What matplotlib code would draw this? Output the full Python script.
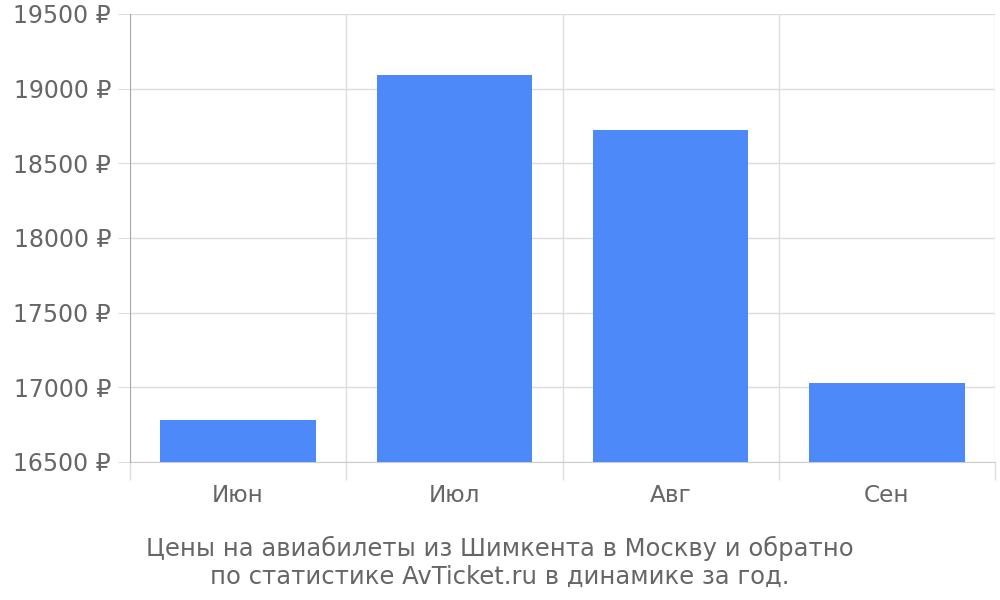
import matplotlib.pyplot as plt
import numpy as np

months = ['Июн', 'Июл', 'Авг', 'Сен']
prices = [16780, 19090, 18720, 17030]
yticks = [16500, 17000, 17500, 18000, 18500, 19000, 19500]
caption = 'Цены на авиабилеты из Шимкента в Москву и обратно\nпо статистике AvTicket.ru в динамике за год.'

fig = plt.figure(figsize=(10, 6), dpi=100)
ax = fig.add_axes([0.13, 0.23, 0.865, 0.7467])

x = np.arange(len(months))
ax.bar(x, [p - yticks[0] for p in prices], bottom=yticks[0], width=0.72,
       color='#4d89f9', zorder=3)

ax.set_xlim(-0.5, len(months) - 0.5)
ax.set_ylim(yticks[0], yticks[-1])

# grid on band borders
ax.set_xticks(np.arange(len(months) + 1) - 0.5)
ax.set_xticklabels([])
ax.set_xticks(x, minor=True)
ax.set_xticklabels(months, minor=True)
ax.tick_params(axis='x', which='major', length=13, color='#dddddd', width=1)
ax.tick_params(axis='x', which='minor', length=0, pad=16, labelsize=16.7, labelcolor='#666666')
ax.set_yticks(yticks)
ax.set_yticklabels([f'{v} ₽' for v in yticks])
ax.tick_params(axis='y', length=8.6, color='#dddddd', labelsize=17, labelcolor='#666666', pad=5)

ax.grid(True, which='major', color='#dddddd', linewidth=1, zorder=0)
for s in ['top', 'right']:
    ax.spines[s].set_visible(False)
ax.spines['left'].set_color('#aaaaaa')
ax.spines['bottom'].set_color('#cccccc')
ax.spines['left'].set_zorder(4)

fig.text(0.5, 0.063, caption, ha='center', va='center', fontsize=17.5,
         color='#666666', linespacing=1.2)

fig.savefig('out.png')
